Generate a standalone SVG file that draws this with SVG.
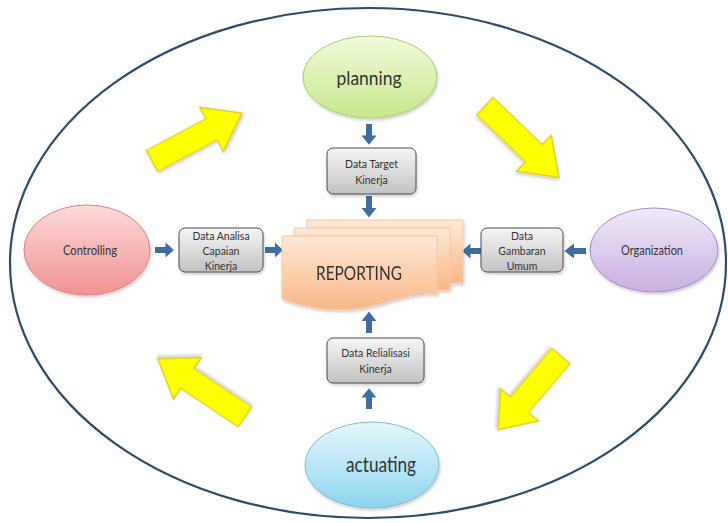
<svg xmlns="http://www.w3.org/2000/svg" xmlns:xlink="http://www.w3.org/1999/xlink" width="728" height="523" viewBox="0 0 728 523">
<defs>
<linearGradient id="gGreen" x1="0" y1="0" x2="0" y2="1"><stop offset="0" stop-color="#f2fbdc"/><stop offset="1" stop-color="#c6e78c"/></linearGradient>
<linearGradient id="gPink" x1="0" y1="0" x2="0" y2="1"><stop offset="0" stop-color="#fcdada"/><stop offset="1" stop-color="#f19292"/></linearGradient>
<linearGradient id="gPurple" x1="0" y1="0" x2="0" y2="1"><stop offset="0" stop-color="#f1eaf8"/><stop offset="1" stop-color="#c8b0e2"/></linearGradient>
<linearGradient id="gCyan" x1="0" y1="0" x2="0" y2="1"><stop offset="0" stop-color="#e6f7fd"/><stop offset="1" stop-color="#8ed5f0"/></linearGradient>
<linearGradient id="gGray" x1="0" y1="0" x2="0" y2="1"><stop offset="0" stop-color="#f6f6f6"/><stop offset="1" stop-color="#c2c2c2"/></linearGradient>
<linearGradient id="gOrange" x1="0" y1="0" x2="0" y2="1"><stop offset="0" stop-color="#fee8d6"/><stop offset="1" stop-color="#f8b888"/></linearGradient>
<filter id="sh" x="-20%" y="-20%" width="140%" height="150%"><feDropShadow dx="1" dy="2" stdDeviation="1.5" flood-color="#000" flood-opacity="0.2"/></filter>
<path id="yarrow" d="M0,-12 L66,-12 L66,-25 L100,0 L66,25 L66,12 L0,12 Z"/>
<polygon id="barrow" points="0,-3 10,-3 10,-7.5 18,0 10,7.5 10,3 0,3"/>
</defs>
<style>
.t{font-family:Lato,"Liberation Sans",sans-serif;fill:#333;text-anchor:middle}
.box{fill:url(#gGray);stroke:#4d4d4d;stroke-width:1}
.bt{font-size:10.5px}
.ya{fill:#ffff00;stroke:#d8c41c;stroke-width:1.2;filter:url(#sh)}
.ba{fill:#3f6e9e}
.sheet{fill:url(#gOrange);stroke:#f3c9a4;stroke-width:1}
</style>
<ellipse id="outer" cx="368" cy="263" rx="358" ry="255" fill="none" stroke="#2e4b69" stroke-width="2.2"/>

<g id="cycle-arrows">
<use xlink:href="#yarrow" class="ya" transform="translate(152,161) rotate(-28) scale(1.02,1)"/>
<use xlink:href="#yarrow" class="ya" transform="translate(485,106) rotate(44) scale(1.03,1)"/>
<use xlink:href="#yarrow" class="ya" transform="translate(561,356) rotate(130.4) scale(0.97,1)"/>
<use xlink:href="#yarrow" class="ya" transform="translate(245,417) rotate(-146.2) scale(1.05,1)"/>
</g>

<g id="connectors">
<use xlink:href="#barrow" class="ba" transform="translate(369,124) rotate(90) scale(1.15,1)"/>
<use xlink:href="#barrow" class="ba" transform="translate(369,196) rotate(90) scale(1.2,1)"/>
<use xlink:href="#barrow" class="ba" transform="translate(155,250) scale(1.05,1)"/>
<use xlink:href="#barrow" class="ba" transform="translate(265,250) scale(1.0,1)"/>
<use xlink:href="#barrow" class="ba" transform="translate(586,251) rotate(180) scale(1.2,1)"/>
<use xlink:href="#barrow" class="ba" transform="translate(481,251) rotate(180) scale(1.05,1)"/>
<use xlink:href="#barrow" class="ba" transform="translate(369,409) rotate(-90) scale(1.15,1)"/>
<use xlink:href="#barrow" class="ba" transform="translate(369,333) rotate(-90) scale(1.2,1)"/>
</g>

<g id="planning">
<ellipse cx="370" cy="77" rx="67" ry="41" fill="url(#gGreen)" stroke="#a9cd70" stroke-width="1" filter="url(#sh)"/>
<text class="t" x="369" y="85" font-size="19.5" textLength="65" lengthAdjust="spacingAndGlyphs">planning</text>
</g>

<g id="controlling">
<ellipse cx="87" cy="250" rx="63" ry="45" fill="url(#gPink)" stroke="#d98383" stroke-width="1" filter="url(#sh)"/>
<text class="t" x="90" y="255" font-size="14" textLength="54" lengthAdjust="spacingAndGlyphs">Controlling</text>
</g>

<g id="organization">
<ellipse cx="654" cy="250" rx="64" ry="42" fill="url(#gPurple)" stroke="#a78bc9" stroke-width="1" filter="url(#sh)"/>
<text class="t" x="652" y="255" font-size="13" textLength="62" lengthAdjust="spacingAndGlyphs">Organization</text>
</g>

<g id="actuating">
<ellipse cx="372" cy="465" rx="67" ry="43" fill="url(#gCyan)" stroke="#7bbcd8" stroke-width="1" filter="url(#sh)"/>
<text class="t" x="381" y="472" font-size="21" textLength="70" lengthAdjust="spacingAndGlyphs">actuating</text>
</g>

<g id="data-target">
<rect class="box" x="327" y="148" width="89" height="46" rx="6" filter="url(#sh)"/>
<text class="t bt" x="371.5" y="168">Data Target</text>
<text class="t bt" x="371.5" y="184">Kinerja</text>
</g>

<g id="data-analisa">
<rect class="box" x="179" y="228" width="84" height="44" rx="6" filter="url(#sh)"/>
<text class="t bt" x="221" y="240">Data Analisa</text>
<text class="t bt" x="221" y="255">Capaian</text>
<text class="t bt" x="221" y="270">Kinerja</text>
</g>

<g id="data-gambaran">
<rect class="box" x="481" y="228" width="82" height="44" rx="6" filter="url(#sh)"/>
<text class="t bt" x="522" y="240">Data</text>
<text class="t bt" x="522" y="255">Gambaran</text>
<text class="t bt" x="522" y="270">Umum</text>
</g>

<g id="data-realisasi">
<rect class="box" x="327" y="338" width="97" height="45" rx="6" filter="url(#sh)"/>
<text class="t bt" x="375.5" y="357">Data Relialisasi</text>
<text class="t bt" x="375.5" y="373">Kinerja</text>
</g>

<g id="reporting" filter="url(#sh)">
<path class="sheet" d="M307,220 H463 V283 H450 V228 H307 Z"/>
<path class="sheet" d="M294,228 H450 V290 H437 V236 H294 Z"/>
<path class="sheet" d="M282,236 H437 V294 C415,292 395,300 372,306 C340,314 305,308 282,299 Z"/>
<text class="t" x="359" y="280" font-size="20" textLength="86" lengthAdjust="spacingAndGlyphs">REPORTING</text>
</g>
</svg>
